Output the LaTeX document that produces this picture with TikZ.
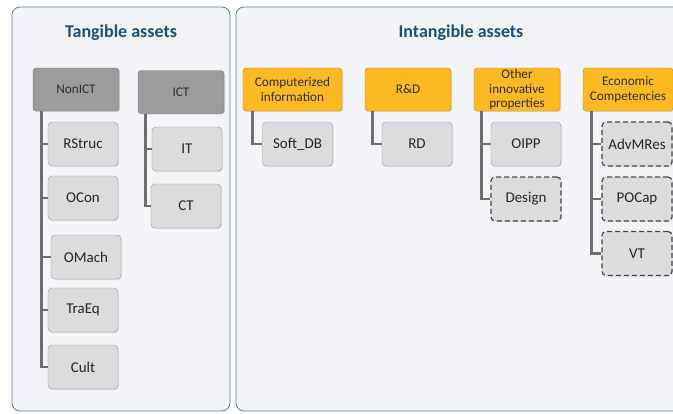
\documentclass[tikz,border=0pt]{standalone}
\usepackage{fontspec}
\setmainfont{Carlito}
\usetikzlibrary{shadows}

\definecolor{panelfill}{HTML}{F2F4F8}
\definecolor{panelline}{HTML}{5B7D9C}
\definecolor{titleblue}{HTML}{1F4E79}
\definecolor{ictgray}{HTML}{9C9C9C}
\definecolor{leafgray}{HTML}{DCDCDC}
\definecolor{amber}{HTML}{FDB922}
\definecolor{connline}{HTML}{6E6E6E}

\tikzset{
    panel/.style={draw=panelline,fill=panelfill,rounded corners=8pt,line width=0.8pt},
    grptitle/.style={text=titleblue,font=\fontsize{18}{20}\selectfont\bfseries},
    head/.style={draw=#1!75!black,fill=#1,rounded corners=3pt,minimum width=86pt,
        minimum height=43pt,align=center,inner sep=1pt,text=black!82,
        font=\fontsize{13.2}{14.8}\selectfont,
        drop shadow={opacity=0.25,shadow xshift=1pt,shadow yshift=-1pt}},
    leaf/.style={draw=black!40,fill=leafgray,rounded corners=4pt,minimum width=70pt,
        minimum height=44pt,inner sep=1pt,text=black!85,
        font=\fontsize{15}{17}\selectfont,
        drop shadow={opacity=0.2,shadow xshift=1pt,shadow yshift=-1pt}},
    dleaf/.style={leaf,draw=black!72,line width=1.2pt,dash pattern=on 5pt off 3pt},
    conn/.style={draw=connline,line width=2.8pt}
}

\begin{document}
\begin{tikzpicture}[x=1pt,y=-1pt]

    \useasboundingbox[fill=white] (0,0) rectangle (673,413);
    \clip (0,0) rectangle (673,413);

    % panels
    \draw[panel] (12,7) rectangle (230,411);
    \draw[panel] (236,7) rectangle (700,411);
    \node[grptitle] (tangible) at (121,33) {Tangible assets};
    \node[grptitle] (intangible) at (461,33) {Intangible assets};

    % tangible assets
    \node[head=ictgray] (nonict) at (76,89.5) {NonICT};
    \node[head=ictgray] (ict) at (181,92) {ICT};

    \node[leaf] (rstruc) at (83,144) {RStruc};
    \node[leaf] (ocon) at (83,198) {OCon};
    \node[leaf] (omach) at (86,257) {OMach};
    \node[leaf] (traeq) at (83,310) {TraEq};
    \node[leaf] (cult) at (83,367) {Cult};

    \node[leaf] (it) at (187,149) {IT};
    \node[leaf] (ct) at (186,206) {CT};

    \foreach \c in {rstruc,ocon,omach,traeq,cult}
        \draw[conn] ([xshift=9pt]nonict.south west) |- (\c.west);
    \foreach \c in {it,ct}
        \draw[conn] ([xshift=8pt]ict.south west) |- (\c.west);

    % intangible assets
    \node[head=amber,minimum width=99pt] (compinfo) at (292.5,89.5) {Computerized\\information};
    \node[head=amber] (rnd) at (408,89.5) {R\&D};
    \node[head=amber] (otherinno) at (517,89.5) {Other\\innovative\\properties};
    \node[head=amber,minimum width=90pt] (econ) at (628,89.5) {Economic\\Competencies};

    \node[leaf] (softdb) at (297.5,144) {Soft\_DB};
    \node[leaf] (rd) at (417,144) {RD};
    \node[leaf] (oipp) at (526,144) {OIPP};
    \node[dleaf] (design) at (526,199) {Design};
    \node[dleaf] (advmres) at (637,144) {AdvMRes};
    \node[dleaf] (pocap) at (637,199) {POCap};
    \node[dleaf] (vt) at (637,253.5) {VT};

    \draw[conn] ([xshift=10pt]compinfo.south west) |- (softdb.west);
    \draw[conn] ([xshift=8pt]rnd.south west) |- (rd.west);
    \foreach \c in {oipp,design}
        \draw[conn] ([xshift=8pt]otherinno.south west) |- (\c.west);
    \foreach \c in {advmres,pocap,vt}
        \draw[conn] ([xshift=9pt]econ.south west) |- (\c.west);

\end{tikzpicture}
\end{document}
